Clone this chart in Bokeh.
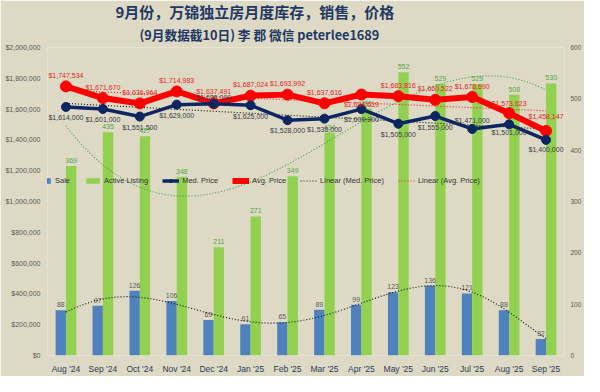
import numpy as np
from bokeh.plotting import figure
from bokeh.models import (ColumnDataSource, Range1d, LinearAxis, FixedTicker,
                          NumeralTickFormatter, Legend, LegendItem, Title, LabelSet)
from bokeh.core.properties import value
from bokeh.transform import dodge
from bokeh.embed import file_html
from bokeh.resources import INLINE

# ---------------- data ----------------
months = ["Aug '24", "Sep '24", "Oct '24", "Nov '24", "Dec '24", "Jan '25", "Feb '25",
          "Mar '25", "Apr '25", "May '25", "Jun '25", "Jul '25", "Aug '25", "Sep '25"]
sales = [88, 97, 126, 106, 69, 61, 65, 89, 99, 123, 136, 121, 88, 32]
active = [369, 435, 427, 348, 211, 271, 349, 434, 481, 552, 529, 529, 508, 530]
med_price = [1614000, 1601000, 1551500, 1629000, 1635000, 1625000, 1528000,
             1538000, 1600000, 1505000, 1555000, 1471000, 1501000, 1400000]
avg_price = [1747534, 1671670, 1636964, 1714983, 1637491, 1687024, 1693992,
             1637616, 1694639, 1683816, 1660522, 1678690, 1573623, 1458147]

title_main = "9月份，万锦独立房月度库存，销售，价格"
title_sub = "(9月数据截10日) 李 郡 微信 peterlee1689"

# ---------------- style ----------------
BG = "#DDD9C4"
NAVY_T = "#1F3864"
BLUE = "#4F81BD"
GREEN = "#92D050"
MED_C = "#0B2660"
AVG_C = "#FF0000"
GRAY = "#595959"
LBL_FONT = "Liberation Sans"
# label offsets (screen px, +y = up) - styling only
avg_dy = [11, 11, 11, 11, 12, 11, 11, 11, -10, 11, 11, 10, 10, 14]
avg_dx = [0, 0, 0, 0, 0, 0, 0, 0, 0, 0, 0, 0, 0, 0]
med_dy = [-11, -11, -11, -11, 6, -11, -10, -11, -10, -11, -11, 8, -8, -10]

n = len(months)
x = list(range(n))

src = ColumnDataSource(dict(
    x=x, sales=sales, active=active, med=med_price, avg=avg_price,
    sales_lbl=[str(v) for v in sales],
    active_lbl=[str(v) for v in active],
    med_lbl=["${:,}".format(v) for v in med_price],
    avg_lbl=["${:,}".format(v) for v in avg_price],
    avg_dy=avg_dy, avg_dx=avg_dx, med_dy=med_dy,
))

p = figure(width=584, height=376, output_backend="svg", toolbar_location=None, title=None,
           x_range=Range1d(-0.5, n - 0.5), y_range=Range1d(0, 2000000),
           background_fill_color=BG, border_fill_color=BG, outline_line_color=None,
           min_border_left=47, min_border_right=0, min_border_bottom=0, min_border_top=0)
p.extra_y_ranges = {"cnt": Range1d(0, 600)}

p.add_layout(Title(text=title_sub, align="left", offset=92, text_font="Noto Sans CJK SC",
                   text_font_size="12.7px", text_font_style="bold", text_color=NAVY_T,
                   standoff=7), "above")
p.add_layout(Title(text=title_main, align="left", offset=68, text_font="Noto Sans CJK SC",
                   text_font_size="15px", text_font_style="bold", text_color=NAVY_T,
                   standoff=-4), "above")

p.xgrid.visible = False
p.ygrid.visible = False

# x axis
xa = p.xaxis[0]
xa.ticker = FixedTicker(ticks=x)
xa.major_label_overrides = {i: m for i, m in enumerate(months)}
xa.major_label_text_font = "Liberation Sans"
xa.major_label_text_font_size = "8.5px"
xa.major_label_text_color = "#2E3B5A"
xa.major_label_standoff = 8

# left axis
ya = p.yaxis[0]
ya.ticker = FixedTicker(ticks=list(range(0, 2000001, 200000)))
ya.formatter = NumeralTickFormatter(format="$0,0")
ya.major_label_text_font = LBL_FONT
ya.major_label_text_font_size = "7px"
ya.major_label_text_color = GRAY
ya.major_label_standoff = 7

ra = LinearAxis(y_range_name="cnt", ticker=FixedTicker(ticks=list(range(0, 601, 100))))
ra.major_label_text_font = LBL_FONT
ra.major_label_text_font_size = "6.5px"
ra.major_label_text_color = GRAY
ra.major_label_standoff = 6
p.add_layout(ra, "right")

for ax in (xa, ya, ra):
    ax.axis_line_color = None
    ax.major_tick_line_color = None
    ax.minor_tick_line_color = None
    ax.major_tick_out = 0
    ax.major_tick_in = 0

# bars
r_sale = p.vbar(x=dodge("x", -0.14), top="sales", width=0.28, source=src,
                y_range_name="cnt", fill_color=BLUE, line_color=None)
r_act = p.vbar(x=dodge("x", 0.14), top="active", width=0.28, source=src,
               y_range_name="cnt", fill_color=GREEN, line_color=None)

p.text(x=dodge("x", -0.14), y="sales", text="sales_lbl", source=src, y_range_name="cnt",
       y_offset=-3, text_align="center", text_baseline="bottom",
       text_font=value(LBL_FONT), text_font_size="7px", text_color=GRAY)
p.text(x=dodge("x", 0.14), y="active", text="active_lbl", source=src, y_range_name="cnt",
       y_offset=-3, text_align="center", text_baseline="bottom",
       text_font=value(LBL_FONT), text_font_size="7px", text_color="#4FA845")

# trend lines (fitted from data)
xs = np.linspace(0, n - 1, 300)
sales_fit = np.polyval(np.polyfit(x, sales, 6), xs)
active_fit = np.polyval(np.polyfit(x, active, 3), xs)
med_fit = np.polyval(np.polyfit(x, med_price, 1), xs)
avg_fit = np.polyval(np.polyfit(x, avg_price, 1), xs)

p.line(xs, active_fit, y_range_name="cnt", line_color="#3DA24A", line_width=1.1,
       line_dash="1 2")
p.line(xs, sales_fit, y_range_name="cnt", line_color="#1A1A1A", line_width=1.2,
       line_dash="1 2")
r_lin_med = p.line(xs, med_fit, line_color="#1A1A1A", line_width=1.2, line_dash="1 2")
r_lin_avg = p.line(xs, avg_fit, line_color="#FF2020", line_width=1.2, line_dash="1 2")

# price lines
r_avg_l = p.line("x", "avg", source=src, line_color=AVG_C, line_width=6)
r_avg_m = p.scatter("x", "avg", source=src, size=11, fill_color=AVG_C, line_color=AVG_C)
r_med_l = p.line("x", "med", source=src, line_color=MED_C, line_width=3.5)
r_med_m = p.scatter("x", "med", source=src, size=9, fill_color=MED_C, line_color=MED_C)

# price labels
p.add_layout(LabelSet(x="x", y="avg", text="avg_lbl", source=src, y_offset="avg_dy",
                      x_offset="avg_dx", text_align="center", text_baseline="middle",
                      text_font=value(LBL_FONT), text_font_size="7px",
                      text_color="#E8261F"))
p.add_layout(LabelSet(x="x", y="med", text="med_lbl", source=src, y_offset="med_dy",
                      text_align="center", text_baseline="middle",
                      text_font=value(LBL_FONT), text_font_size="7px",
                      text_color="#3A3A48"))

legend = Legend(items=[
    LegendItem(label="Sale", renderers=[r_sale]),
    LegendItem(label="Active Listing", renderers=[r_act]),
    LegendItem(label="Med. Price", renderers=[r_med_l, r_med_m]),
    LegendItem(label="Avg. Price", renderers=[r_avg_l, r_avg_m]),
    LegendItem(label="Linear (Med. Price)", renderers=[r_lin_med]),
    LegendItem(label="Linear (Avg. Price)", renderers=[r_lin_avg]),
], orientation="horizontal", location=(-12, 170), background_fill_alpha=0,
    border_line_color=None, label_text_font=LBL_FONT, label_text_font_size="7.5px",
    label_text_color="#333333", glyph_width=17, glyph_height=7, label_height=10,
    label_width=10, label_standoff=3, spacing=14, padding=0, margin=0)
p.add_layout(legend, "center")

open("out.html", "w").write(file_html(p, INLINE))
